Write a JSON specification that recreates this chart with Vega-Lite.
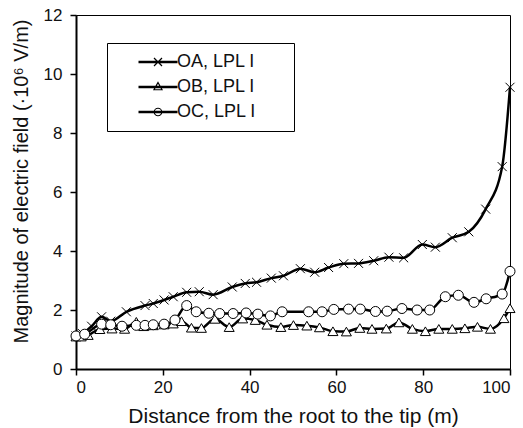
{
  "$schema": "https://vega.github.io/schema/vega-lite/v6.json",
  "width": 434,
  "height": 354,
  "autosize": {"type": "none"},
  "padding": {"left": 76, "top": 15, "right": 13, "bottom": 59},
  "background": "white",
  "config": {
    "font": "Liberation Sans",
    "view": {"stroke": "black", "strokeWidth": 1},
    "axis": {
      "grid": false,
      "domainColor": "black",
      "domainWidth": 2,
      "tickColor": "black",
      "tickWidth": 1.5,
      "tickSize": 6,
      "labelColor": "#111",
      "labelFontSize": 17,
      "titleColor": "#111",
      "titleFontSize": 20,
      "titleFontWeight": "normal"
    }
  },
  "data": {
    "values": [
      {"x": 0, "y": 1.12, "s": "OA, LPL I"},
      {"x": 1.5, "y": 1.2, "s": "OA, LPL I"},
      {"x": 3.6, "y": 1.45, "s": "OA, LPL I"},
      {"x": 5.9, "y": 1.77, "s": "OA, LPL I"},
      {"x": 8.0, "y": 1.62, "s": "OA, LPL I"},
      {"x": 11.6, "y": 1.94, "s": "OA, LPL I"},
      {"x": 15.9, "y": 2.15, "s": "OA, LPL I"},
      {"x": 17.8, "y": 2.22, "s": "OA, LPL I"},
      {"x": 20.3, "y": 2.34, "s": "OA, LPL I"},
      {"x": 22.4, "y": 2.45, "s": "OA, LPL I"},
      {"x": 25.5, "y": 2.6, "s": "OA, LPL I"},
      {"x": 28.4, "y": 2.62, "s": "OA, LPL I"},
      {"x": 31.6, "y": 2.52, "s": "OA, LPL I"},
      {"x": 36.0, "y": 2.78, "s": "OA, LPL I"},
      {"x": 39.0, "y": 2.9, "s": "OA, LPL I"},
      {"x": 41.6, "y": 2.94, "s": "OA, LPL I"},
      {"x": 45.0, "y": 3.08, "s": "OA, LPL I"},
      {"x": 47.8, "y": 3.16, "s": "OA, LPL I"},
      {"x": 51.7, "y": 3.4, "s": "OA, LPL I"},
      {"x": 55.0, "y": 3.28, "s": "OA, LPL I"},
      {"x": 58.2, "y": 3.44, "s": "OA, LPL I"},
      {"x": 61.7, "y": 3.57, "s": "OA, LPL I"},
      {"x": 65.1, "y": 3.58, "s": "OA, LPL I"},
      {"x": 68.6, "y": 3.67, "s": "OA, LPL I"},
      {"x": 72.1, "y": 3.79, "s": "OA, LPL I"},
      {"x": 75.5, "y": 3.77, "s": "OA, LPL I"},
      {"x": 79.8, "y": 4.22, "s": "OA, LPL I"},
      {"x": 82.8, "y": 4.13, "s": "OA, LPL I"},
      {"x": 86.7, "y": 4.45, "s": "OA, LPL I"},
      {"x": 90.5, "y": 4.65, "s": "OA, LPL I"},
      {"x": 94.4, "y": 5.42, "s": "OA, LPL I"},
      {"x": 98.2, "y": 6.86, "s": "OA, LPL I"},
      {"x": 100, "y": 9.55, "s": "OA, LPL I"},

      {"x": 0, "y": 1.1, "s": "OB, LPL I"},
      {"x": 1.2, "y": 1.1, "s": "OB, LPL I"},
      {"x": 2.8, "y": 1.15, "s": "OB, LPL I"},
      {"x": 5.5, "y": 1.35, "s": "OB, LPL I"},
      {"x": 8.3, "y": 1.37, "s": "OB, LPL I"},
      {"x": 11.2, "y": 1.36, "s": "OB, LPL I"},
      {"x": 13.9, "y": 1.6, "s": "OB, LPL I"},
      {"x": 15.6, "y": 1.45, "s": "OB, LPL I"},
      {"x": 17.8, "y": 1.48, "s": "OB, LPL I"},
      {"x": 20.3, "y": 1.51, "s": "OB, LPL I"},
      {"x": 22.4, "y": 1.54, "s": "OB, LPL I"},
      {"x": 24.3, "y": 1.62, "s": "OB, LPL I"},
      {"x": 26.6, "y": 1.4, "s": "OB, LPL I"},
      {"x": 28.9, "y": 1.39, "s": "OB, LPL I"},
      {"x": 32.0, "y": 1.7, "s": "OB, LPL I"},
      {"x": 35.3, "y": 1.42, "s": "OB, LPL I"},
      {"x": 38.4, "y": 1.71, "s": "OB, LPL I"},
      {"x": 41.3, "y": 1.66, "s": "OB, LPL I"},
      {"x": 44.0, "y": 1.5, "s": "OB, LPL I"},
      {"x": 47.2, "y": 1.42, "s": "OB, LPL I"},
      {"x": 50.1, "y": 1.49, "s": "OB, LPL I"},
      {"x": 53.2, "y": 1.47, "s": "OB, LPL I"},
      {"x": 56.1, "y": 1.41, "s": "OB, LPL I"},
      {"x": 59.2, "y": 1.28, "s": "OB, LPL I"},
      {"x": 62.3, "y": 1.27, "s": "OB, LPL I"},
      {"x": 65.4, "y": 1.39, "s": "OB, LPL I"},
      {"x": 68.2, "y": 1.36, "s": "OB, LPL I"},
      {"x": 71.5, "y": 1.37, "s": "OB, LPL I"},
      {"x": 74.4, "y": 1.58, "s": "OB, LPL I"},
      {"x": 77.5, "y": 1.36, "s": "OB, LPL I"},
      {"x": 80.5, "y": 1.28, "s": "OB, LPL I"},
      {"x": 83.6, "y": 1.36, "s": "OB, LPL I"},
      {"x": 86.7, "y": 1.36, "s": "OB, LPL I"},
      {"x": 89.6, "y": 1.38, "s": "OB, LPL I"},
      {"x": 92.5, "y": 1.43, "s": "OB, LPL I"},
      {"x": 95.5, "y": 1.36, "s": "OB, LPL I"},
      {"x": 98.6, "y": 1.72, "s": "OB, LPL I"},
      {"x": 100, "y": 2.06, "s": "OB, LPL I"},

      {"x": 0, "y": 1.12, "s": "OC, LPL I"},
      {"x": 2.0, "y": 1.18, "s": "OC, LPL I"},
      {"x": 5.9, "y": 1.52, "s": "OC, LPL I"},
      {"x": 8.0, "y": 1.5, "s": "OC, LPL I"},
      {"x": 10.6, "y": 1.45, "s": "OC, LPL I"},
      {"x": 13.9, "y": 1.48, "s": "OC, LPL I"},
      {"x": 15.9, "y": 1.48, "s": "OC, LPL I"},
      {"x": 17.8, "y": 1.5, "s": "OC, LPL I"},
      {"x": 20.3, "y": 1.52, "s": "OC, LPL I"},
      {"x": 22.8, "y": 1.66, "s": "OC, LPL I"},
      {"x": 25.5, "y": 2.15, "s": "OC, LPL I"},
      {"x": 27.7, "y": 1.94, "s": "OC, LPL I"},
      {"x": 30.6, "y": 1.89, "s": "OC, LPL I"},
      {"x": 33.1, "y": 1.88, "s": "OC, LPL I"},
      {"x": 36.2, "y": 1.88, "s": "OC, LPL I"},
      {"x": 39.2, "y": 1.9, "s": "OC, LPL I"},
      {"x": 41.9, "y": 1.86, "s": "OC, LPL I"},
      {"x": 44.8, "y": 1.8, "s": "OC, LPL I"},
      {"x": 47.5, "y": 1.94, "s": "OC, LPL I"},
      {"x": 53.6, "y": 1.94, "s": "OC, LPL I"},
      {"x": 56.7, "y": 1.94, "s": "OC, LPL I"},
      {"x": 59.4, "y": 2.02, "s": "OC, LPL I"},
      {"x": 62.8, "y": 2.03, "s": "OC, LPL I"},
      {"x": 65.5, "y": 2.03, "s": "OC, LPL I"},
      {"x": 69.0, "y": 1.95, "s": "OC, LPL I"},
      {"x": 71.7, "y": 1.96, "s": "OC, LPL I"},
      {"x": 75.1, "y": 2.05, "s": "OC, LPL I"},
      {"x": 78.6, "y": 2.0, "s": "OC, LPL I"},
      {"x": 81.5, "y": 2.0, "s": "OC, LPL I"},
      {"x": 85.1, "y": 2.45, "s": "OC, LPL I"},
      {"x": 88.1, "y": 2.5, "s": "OC, LPL I"},
      {"x": 91.7, "y": 2.26, "s": "OC, LPL I"},
      {"x": 94.5, "y": 2.38, "s": "OC, LPL I"},
      {"x": 98.2, "y": 2.54, "s": "OC, LPL I"},
      {"x": 100, "y": 3.31, "s": "OC, LPL I"}
    ]
  },
  "encoding": {
    "x": {
      "field": "x", "type": "quantitative",
      "scale": {"domain": [0, 100], "nice": false},
      "axis": {"values": [0, 20, 40, 60, 80, 100], "title": "Distance from the root to the tip (m)", "labelPadding": 4, "titleFontSize": 21, "titleY": 53, "titleBaseline": "alphabetic"}
    },
    "y": {
      "field": "y", "type": "quantitative",
      "scale": {"domain": [0, 12], "nice": false},
      "axis": {"values": [0, 2, 4, 6, 8, 10, 12], "title": "Magnitude of electric field (·10⁶ V/m)", "labelPadding": 8, "titleX": -49, "titleY": 166, "titleBaseline": "alphabetic"}
    }
  },
  "layer": [
    {
      "mark": {"type": "line", "color": "black", "strokeWidth": 2.5, "interpolate": "monotone"},
      "encoding": {"detail": {"field": "s"}}
    },
    {
      "mark": {"type": "point", "filled": true, "fill": "white", "stroke": "black", "strokeWidth": 1, "size": 100, "opacity": 1},
      "encoding": {
        "shape": {
          "field": "s", "type": "nominal",
          "scale": {"domain": ["OA, LPL I", "OB, LPL I", "OC, LPL I"], "range": ["M-0.9,-0.9L0.9,0.9M-0.9,0.9L0.9,-0.9", "triangle-up", "circle"]},
          "legend": null
        }
      }
    },
    {
      "transform": [{"filter": "datum.x < -1000"}],
      "mark": {"type": "point", "filled": false, "stroke": "black", "strokeWidth": 1.2, "size": 100, "opacity": 1},
      "encoding": {
        "shape": {
          "field": "s", "type": "nominal",
          "scale": {"domain": ["OA, LPL I", "OB, LPL I", "OC, LPL I"], "range": [
            "M-3.9,-0.15L3.9,-0.15M-3.9,0L3.9,0M-3.9,0.15L3.9,0.15M-0.8,-0.8L0.8,0.8M-0.8,0.8L0.8,-0.8M24.6,0L24.6,0",
            "M-3.9,-0.15L3.9,-0.15M-3.9,0L3.9,0M-3.9,0.15L3.9,0.15M0,-0.9L0.8,0.55L-0.8,0.55Z",
            "M-3.9,-0.15L3.9,-0.15M-3.9,0L3.9,0M-3.9,0.15L3.9,0.15M0.75,0A0.75,0.75 0 1,1 -0.75,0A0.75,0.75 0 1,1 0.75,0"
          ]},
          "legend": {
            "title": null,
            "orient": "none",
            "legendX": 31,
            "legendY": 28,
            "padding": 10,
            "strokeColor": "black",
            "fillColor": "white",
            "symbolSize": 100,
            "symbolStrokeColor": "black",
            "symbolStrokeWidth": 1.2,
            "symbolFillColor": "transparent",
            "symbolOpacity": 1,
            "symbolOffset": 32,
            "labelOffset": 10,
            "rowPadding": 7,
            "labelFontSize": 18,
            "labelColor": "#111"
          }
        }
      }
    }
  ],
  "resolve": {"scale": {"shape": "independent"}}
}
